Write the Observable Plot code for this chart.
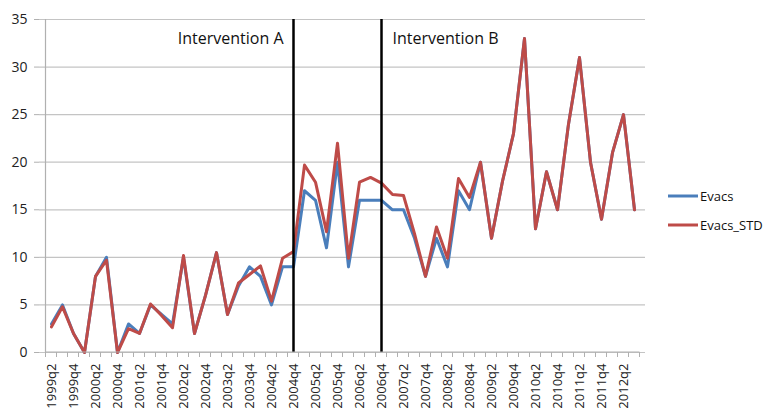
<!DOCTYPE html>
<html>
<head>
<meta charset="utf-8">
<script src="https://cdn.jsdelivr.net/npm/d3@7"></script>
<script src="https://cdn.jsdelivr.net/npm/@observablehq/plot@0.6"></script>
<style>
  html, body { margin: 0; padding: 0; background: #fff; }
  #chart svg { display: block; }
</style>
</head>
<body>
<div id="chart"></div>
<script>
const quarters = [
  "1999q2","1999q3","1999q4",
  "2000q1","2000q2","2000q3","2000q4",
  "2001q1","2001q2","2001q3","2001q4",
  "2002q1","2002q2","2002q3","2002q4",
  "2003q1","2003q2","2003q3","2003q4",
  "2004q1","2004q2","2004q3","2004q4",
  "2005q1","2005q2","2005q3","2005q4",
  "2006q1","2006q2","2006q3","2006q4",
  "2007q1","2007q2","2007q3","2007q4",
  "2008q1","2008q2","2008q3","2008q4",
  "2009q1","2009q2","2009q3","2009q4",
  "2010q1","2010q2","2010q3","2010q4",
  "2011q1","2011q2","2011q3","2011q4",
  "2012q1","2012q2","2012q3"
];
const evacs = [
  3, 5, 2,
  0, 8, 10, 0,
  3, 2, 5, 4,
  3, 10, 2, 6,
  10.5, 4, 7, 9,
  8, 5, 9, 9,
  17, 16, 11, 20,
  9, 16, 16, 16,
  15, 15, 12, 8,
  12, 9, 17, 15,
  20, 12, 18, 23,
  33, 13, 19, 15,
  24, 31, 20, 14,
  21, 25, 15
];
const evacsStd = [
  2.7, 4.8, 2,
  0, 8, 9.7, 0,
  2.5, 2, 5.1, 3.9,
  2.6, 10.2, 2, 6,
  10.5, 4, 7.3, 8.2,
  9.1, 5.4, 9.9, 10.6,
  19.7, 17.9, 12.7, 22,
  9.9, 17.9, 18.4, 17.8,
  16.6, 16.5, 12.5, 8,
  13.2, 9.9, 18.3, 16.3,
  20, 12, 18, 23,
  33, 13, 19, 15,
  24, 31, 20, 14,
  21, 25, 15
];
const seriesNames = ["Evacs", "Evacs_STD"];
const seriesColors = ["#4a7ebb", "#be4b48"];
const yTicks = [0, 5, 10, 15, 20, 25, 30, 35];
const xTickLabels = quarters.filter((d, i) => i % 2 === 0);
const interventionQuarters = ["2004q4", "2006q4"];
const interventionLabels = ["Intervention A", "Intervention B"];

const gridColor = "#c4c4c4";
const axisColor = "#b0b0b0";

const plot = Plot.plot({
  width: 769,
  height: 408,
  marginLeft: 39,
  marginRight: 124,
  marginTop: 19,
  marginBottom: 56,
  style: {fontFamily: "'Open Sans', sans-serif", fontSize: "13px", color: "#222", background: "#fff"},
  x: {type: "point", domain: quarters, padding: 0.5},
  y: {domain: [0, 35]},
  marks: [
    Plot.ruleY(yTicks, {stroke: gridColor, strokeWidth: 1.2}),
    Plot.axisY({ticks: yTicks, tickSize: 5, tickPadding: 7, stroke: axisColor, label: null, fontSize: 14}),
    Plot.axisX({ticks: xTickLabels, tickRotate: -90, tickSize: 0, tickPadding: 11, label: null, fontSize: 13}),
    Plot.line(evacs, {x: (d, i) => quarters[i], y: d => d, stroke: seriesColors[0], strokeWidth: 3, strokeLinejoin: "round"}),
    Plot.line(evacsStd, {x: (d, i) => quarters[i], y: d => d, stroke: seriesColors[1], strokeWidth: 3, strokeLinejoin: "round"}),
    Plot.ruleX(interventionQuarters, {stroke: "#000", strokeWidth: 2.5}),
    Plot.text([0], {x: () => interventionQuarters[0], y: () => 35, text: () => interventionLabels[0], textAnchor: "end", dx: -10, dy: 19, fontSize: 16, fill: "#111"}),
    Plot.text([1], {x: () => interventionQuarters[1], y: () => 35, text: () => interventionLabels[1], textAnchor: "start", dx: 11, dy: 19, fontSize: 16, fill: "#111"})
  ]
});

document.getElementById("chart").appendChild(plot);

// Excel-style axis lines, category boundary ticks and legend
const svg = d3.select(plot);
const xs = plot.scale("x");
const x0 = xs.apply(quarters[0]);
const step = xs.apply(quarters[1]) - x0;
const left = x0 - step / 2;
const right = xs.apply(quarters[quarters.length - 1]) + step / 2;
const ys = plot.scale("y");
const yBottom = ys.apply(0);
const yTop = ys.apply(35);
const chrome = svg.append("g");
chrome.append("line").attr("x1", left).attr("x2", left).attr("y1", yTop).attr("y2", yBottom).attr("stroke", axisColor).attr("stroke-width", 1.2);
chrome.append("line").attr("x1", left).attr("x2", right).attr("y1", yBottom).attr("y2", yBottom).attr("stroke", axisColor).attr("stroke-width", 1.2);
d3.range(quarters.length + 1).forEach(i => {
  const x = left + i * step;
  chrome.append("line").attr("x1", x).attr("x2", x).attr("y1", yBottom).attr("y2", yBottom + 5).attr("stroke", axisColor).attr("stroke-width", 1);
});
const legend = svg.append("g").attr("font-family", "'Open Sans', sans-serif").attr("font-size", 13).attr("text-anchor", "start");
seriesNames.forEach((name, i) => {
  const ly = 196 + i * 29;
  legend.append("line").attr("x1", 668).attr("x2", 698).attr("y1", ly).attr("y2", ly).attr("stroke", seriesColors[i]).attr("stroke-width", 3);
  legend.append("text").attr("x", 700).attr("y", ly).attr("dy", "0.35em").attr("fill", "#111").text(name);
});
</script>
</body>
</html>
